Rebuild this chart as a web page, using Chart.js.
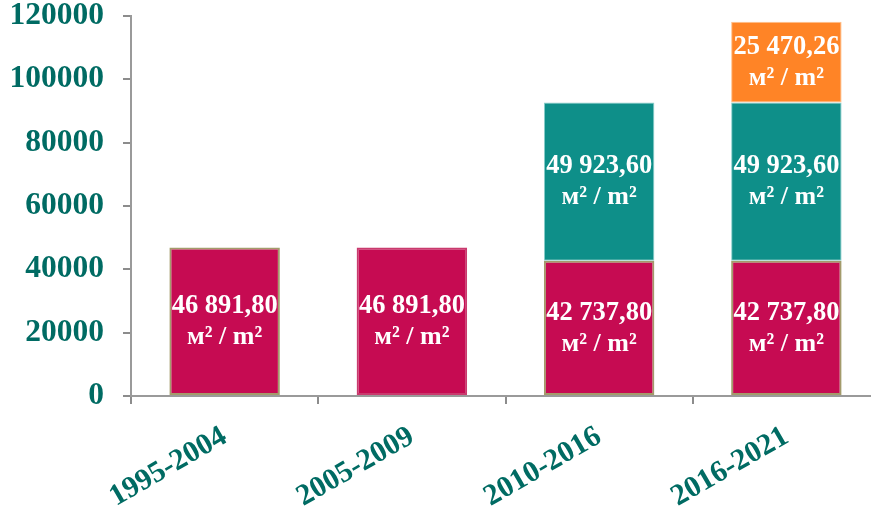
<!DOCTYPE html>
<html>
<head>
<meta charset="utf-8">
<script src="https://cdn.jsdelivr.net/npm/chart.js@4"></script>
<style>
html,body{margin:0;padding:0;background:#fff;overflow:hidden;width:871px;height:515px;position:relative;}
#wrap{position:absolute;left:0;top:-22px;width:880px;height:537px;}
</style>
</head>
<body>
<div id="wrap"><canvas id="c" width="880" height="537"></canvas></div>
<script>
const categories = ['1995-2004', '2005-2009', '2010-2016', '2016-2021'];
const seriesBase = [46891.80, 46891.80, 42737.80, 42737.80];
const seriesSecond = [null, null, 49923.60, 49923.60];
const seriesThird = [null, null, null, 25470.26];
const yTicks = [0, 20000, 40000, 60000, 80000, 100000, 120000];
const unitLabel = 'м² / m²';

const tealText = '#006B63';
const serif = '"Liberation Serif", "Times New Roman", serif';

function fmt(v) {
  const parts = v.toFixed(2).split('.');
  const intPart = parts[0].replace(/\B(?=(\d{3})+(?!\d))/g, ' ');
  return intPart + ',' + parts[1];
}

const labelPlugin = {
  id: 'barText',
  afterDatasetsDraw(chart) {
    const ctx = chart.ctx;
    ctx.save();
    ctx.fillStyle = '#ffffff';
    ctx.textAlign = 'center';
    ctx.textBaseline = 'middle';
    chart.data.datasets.forEach((ds, di) => {
      const meta = chart.getDatasetMeta(di);
      meta.data.forEach((bar, i) => {
        const v = ds.data[i];
        if (v === null || v === undefined) return;
        const p = bar.getProps(['x', 'y', 'base'], true);
        const cy = (p.y + p.base) / 2;
        ctx.font = 'bold 26.5px ' + serif;
        ctx.fillText(fmt(v), p.x, cy - 15);
        ctx.font = 'bold 26px ' + serif;
        ctx.fillText(unitLabel, p.x, cy + 16);
      });
    });
    ctx.restore();
  }
};

new Chart(document.getElementById('c'), {
  type: 'bar',
  data: {
    labels: categories,
    datasets: [
      { data: seriesBase, backgroundColor: '#C60B52',
        borderColor: ['#A39B6B', '#C93A6E', '#A39B6B', '#A39B6B'], borderWidth: 2, borderSkipped: false },
      { data: seriesSecond, backgroundColor: '#0E8F89', borderColor: '#8ACFCB', borderWidth: 1, borderSkipped: false },
      { data: seriesThird, backgroundColor: '#FF8426', borderColor: '#FFC08A', borderWidth: 1, borderSkipped: false }
    ]
  },
  options: {
    responsive: false,
    animation: false,
    layout: { padding: 0 },
    plugins: { legend: { display: false }, tooltip: { enabled: false } },
    datasets: { bar: { categoryPercentage: 1.0, barPercentage: 0.59 } },
    scales: {
      x: {
        stacked: true,
        grid: { display: true, drawOnChartArea: false, drawTicks: true, tickLength: 8, color: '#8C8C8C', lineWidth: 2 },
        border: { display: true, color: '#9A9A9A', width: 2 },
        ticks: {
          color: tealText, font: { family: serif, size: 30, weight: 'bold' },
          maxRotation: 30, minRotation: 30, padding: 15
        },
        afterFit(scale) { scale.height = 119; }
      },
      y: {
        stacked: true,
        min: 0, max: 120000,
        afterBuildTicks(scale) { scale.ticks = yTicks.map(v => ({ value: v })); },
        grid: { display: true, drawOnChartArea: false, drawTicks: true, tickLength: 8, color: '#8C8C8C', lineWidth: 2 },
        border: { display: true, color: '#9A9A9A', width: 2 },
        ticks: {
          color: tealText, font: { family: serif, size: 31.5, weight: 'bold' }, padding: 19,
          callback: (v) => String(v)
        },
        afterFit(scale) { scale.width = 131; }
      }
    }
  },
  plugins: [labelPlugin]
});
</script>
</body>
</html>
